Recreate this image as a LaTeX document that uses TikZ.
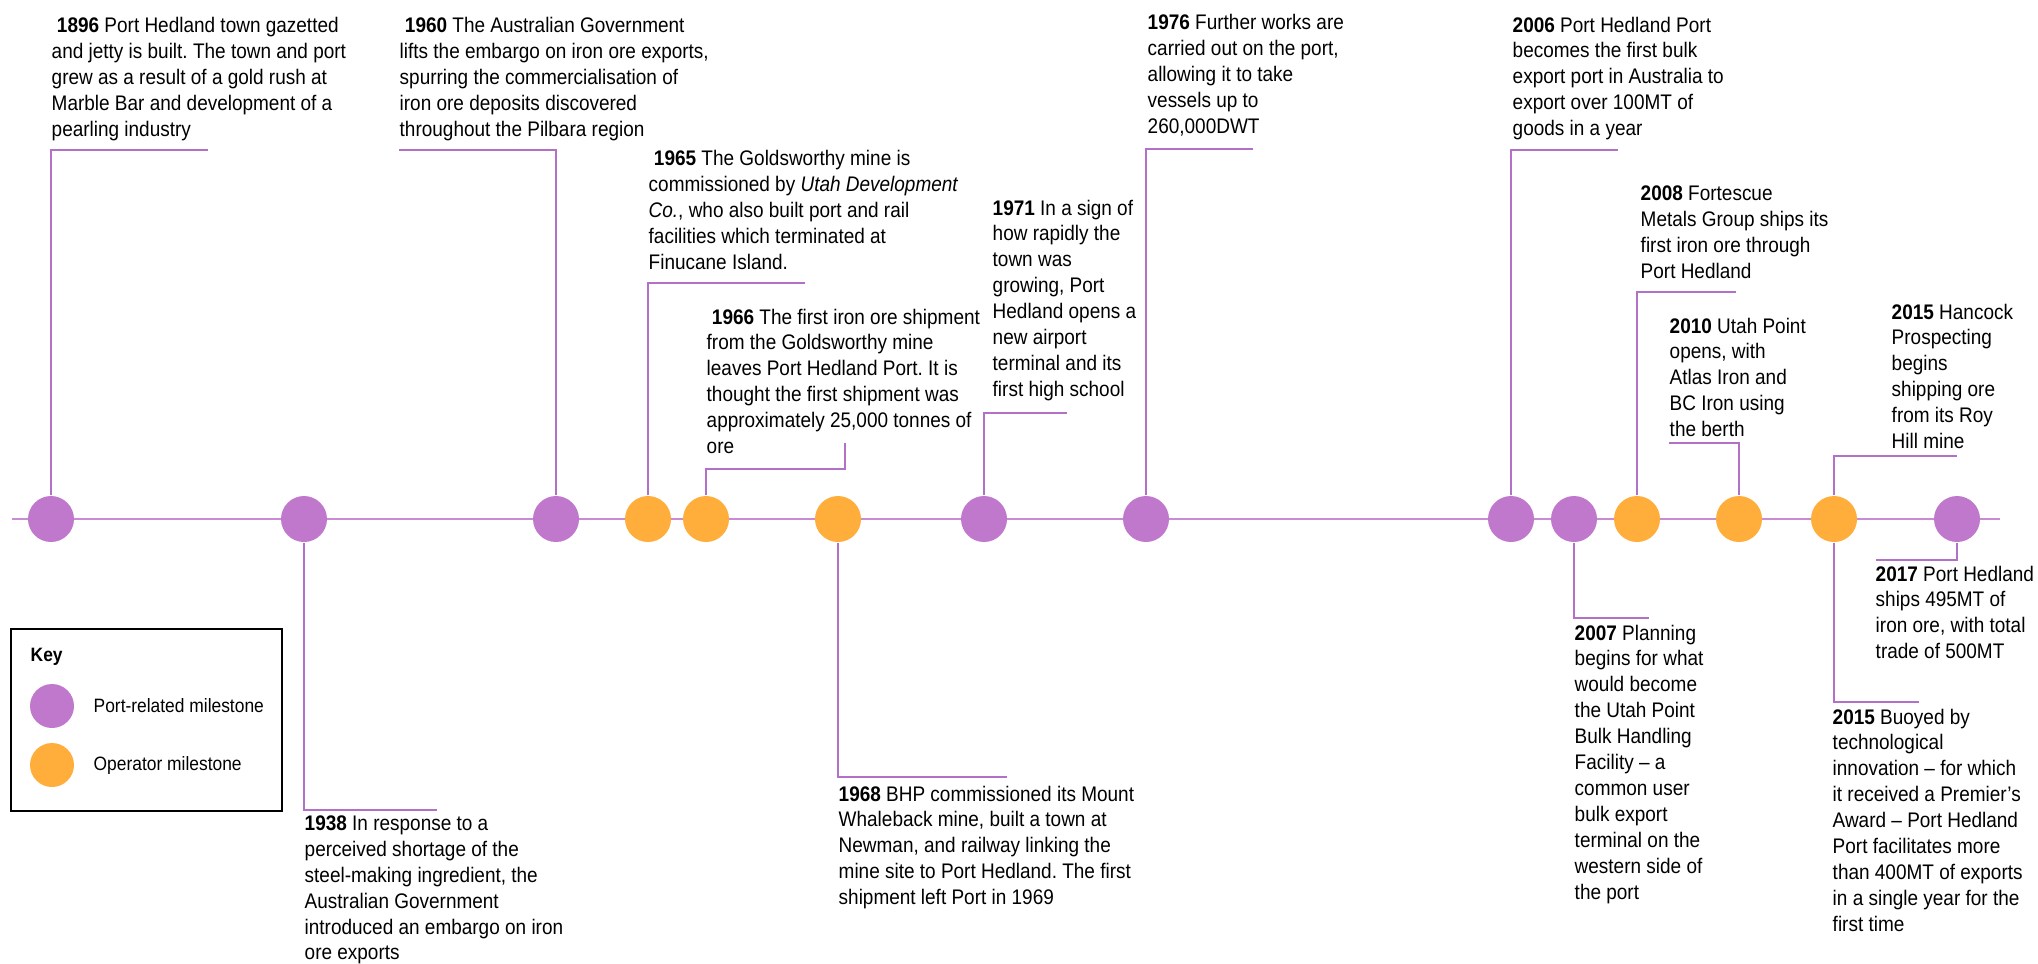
\documentclass[tikz,border=0pt]{standalone}
\usepackage{fontspec}
\setmainfont{Liberation Sans}[FakeStretch=0.9]
\usepackage{tikz}
\usetikzlibrary{positioning}
\frenchspacing

\definecolor{portpurple}{RGB}{191,120,204}
\definecolor{oporange}{RGB}{255,173,59}
\definecolor{linepurple}{RGB}{178,112,198}
\newcommand{\yr}[1]{\textbf{#1}}

\begin{document}
\begin{tikzpicture}[
        port/.style={circle, fill=portpurple, draw=none, minimum size=0.46cm, inner sep=0pt},
        oper/.style={circle, fill=oporange, draw=none, minimum size=0.46cm, inner sep=0pt},
        axis/.style={draw, portpurple!85, line width=0.02cm},
        callout/.style={draw, linepurple, line width=0.013cm},
        txt/.style={anchor=north west, inner sep=0pt, align=left, font=\fontsize{6}{7.37}\selectfont},
        keytxt/.style={anchor=west, inner sep=0pt, font=\fontsize{5.5}{6.6}\selectfont},
    ]
    \useasboundingbox (0,0) rectangle (20.38,-9.63);

    % Time axis
    \coordinate (axisL) at (0.12,-5.19);
    \coordinate (axisR) at (20.00,-5.19);
    \draw[axis] (axisL) -- (axisR);

    % === MILESTONES ===
    \node[port] (c1896) at (0.51,-5.19) {};
    \node[port] (c1938) at (3.04,-5.19) {};
    \node[port] (c1960) at (5.56,-5.19) {};
    \node[oper] (c1965) at (6.48,-5.19) {};
    \node[oper] (c1966) at (7.06,-5.19) {};
    \node[oper] (c1968) at (8.38,-5.19) {};
    \node[port] (c1971) at (9.84,-5.19) {};
    \node[port] (c1976) at (11.46,-5.19) {};
    \node[port] (c2006) at (15.11,-5.19) {};
    \node[port] (c2007) at (15.74,-5.19) {};
    \node[oper] (c2008) at (16.37,-5.19) {};
    \node[oper] (c2010) at (17.39,-5.19) {};
    \node[oper] (c2015) at (18.34,-5.19) {};
    \node[port] (c2017) at (19.57,-5.19) {};

    % === ABOVE THE AXIS ===
    \node[txt] (t1896) at (0.51,-0.17) {\ \yr{1896} Port Hedland town gazetted\\and jetty is built. The town and port\\grew as a result of a gold rush at\\Marble Bar and development of a\\pearling industry};
    \coordinate (e1896) at (2.08,-1.50);
    \draw[callout] (c1896.north) |- (e1896);

    \node[txt] (t1960) at (3.99,-0.17) {\ \yr{1960} The Australian Government\\lifts the embargo on iron ore exports,\\spurring the commercialisation of\\iron ore deposits discovered\\throughout the Pilbara region};
    \coordinate (e1960) at (3.99,-1.50);
    \draw[callout] (c1960.north) |- (e1960);

    \node[txt] (t1965) at (6.48,-1.50) {\ \yr{1965} The Goldsworthy mine is\\commissioned by \textit{Utah Development}\\\textit{Co.}, who also built port and rail\\facilities which terminated at\\Finucane Island.};
    \coordinate (e1965) at (8.05,-2.83);
    \draw[callout] (c1965.north) |- (e1965);

    \node[txt] (t1966) at (7.06,-3.08) {\ \yr{1966} The first iron ore shipment\\from the Goldsworthy mine\\leaves Port Hedland Port. It is\\thought the first shipment was\\approximately 25,000 tonnes of\\ore};
    \coordinate (e1966) at (8.45,-4.69);
    \coordinate (h1966) at (8.45,-4.43);
    \draw[callout] (c1966.north) |- (e1966) -- (h1966);

    \node[txt] (t1971) at (9.92,-1.99) {\yr{1971} In a sign of\\how rapidly the\\town was\\growing, Port\\Hedland opens a\\new airport\\terminal and its\\first high school};
    \coordinate (e1971) at (10.67,-4.13);
    \draw[callout] (c1971.north) |- (e1971);

    \node[txt] (t1976) at (11.47,-0.14) {\yr{1976} Further works are\\carried out on the port,\\allowing it to take\\vessels up to\\260,000DWT};
    \coordinate (e1976) at (12.53,-1.49);
    \draw[callout] (c1976.north) |- (e1976);

    \node[txt] (t2006) at (15.12,-0.16) {\yr{2006} Port Hedland Port\\becomes the first bulk\\export port in Australia to\\export over 100MT of\\goods in a year};
    \coordinate (e2006) at (16.18,-1.50);
    \draw[callout] (c2006.north) |- (e2006);

    \node[txt] (t2008) at (16.40,-1.85) {\yr{2008} Fortescue\\Metals Group ships its\\first iron ore through\\Port Hedland};
    \coordinate (e2008) at (17.36,-2.92);
    \draw[callout] (c2008.north) |- (e2008);

    \node[txt] (t2010) at (16.69,-3.17) {\yr{2010} Utah Point\\opens, with\\Atlas Iron and\\BC Iron using\\the berth};
    \coordinate (e2010) at (16.69,-4.43);
    \draw[callout] (c2010.north) |- (e2010);

    \node[txt] (t2015a) at (18.91,-3.03) {\yr{2015} Hancock\\Prospecting\\begins\\shipping ore\\from its Roy\\Hill mine};
    \coordinate (e2015a) at (19.57,-4.56);
    \draw[callout] (c2015.north) |- (e2015a);

    % === BELOW THE AXIS ===
    \node[txt] (t1938) at (3.04,-8.15) {\yr{1938} In response to a\\perceived shortage of the\\steel-making ingredient, the\\Australian Government\\introduced an embargo on iron\\ore exports};
    \coordinate (e1938) at (4.37,-8.10);
    \draw[callout] (c1938.south) |- (e1938);

    \node[txt] (t1968) at (8.38,-7.85) {\yr{1968} BHP commissioned its Mount\\Whaleback mine, built a town at\\Newman, and railway linking the\\mine site to Port Hedland. The first\\shipment left Port in 1969};
    \coordinate (e1968) at (10.07,-7.77);
    \draw[callout] (c1968.south) |- (e1968);

    \node[txt] (t2007) at (15.74,-6.24) {\yr{2007} Planning\\begins for what\\would become\\the Utah Point\\Bulk Handling\\Facility -- a\\common user\\bulk export\\terminal on the\\western side of\\the port};
    \coordinate (e2007) at (16.49,-6.18);
    \draw[callout] (c2007.south) |- (e2007);

    \node[txt] (t2015b) at (18.32,-7.08) {\yr{2015} Buoyed by\\technological\\innovation -- for which\\it received a Premier’s\\Award -- Port Hedland\\Port facilitates more\\than 400MT of exports\\in a single year for the\\first time};
    \coordinate (e2015b) at (19.19,-7.02);
    \draw[callout] (c2015.south) |- (e2015b);

    \node[txt] (t2017) at (18.75,-5.65) {\yr{2017} Port Hedland\\ships 495MT of\\iron ore, with total\\trade of 500MT};
    \coordinate (e2017) at (18.76,-5.60);
    \draw[callout] (c2017.south) |- (e2017);

    % === KEY ===
    \coordinate (keyNW) at (0.11,-6.29);
    \coordinate (keySE) at (2.82,-8.11);
    \draw[black, line width=0.02cm] (keyNW) rectangle (keySE);
    \node[txt, font=\fontsize{5.5}{6.6}\selectfont\bfseries] (keytitle) at (0.30,-6.47) {Key};
    \node[port, minimum size=0.44cm] (kport) at (0.52,-7.06) {};
    \node[oper, minimum size=0.44cm] (koper) at (0.52,-7.65) {};
    \node[keytxt] (lport) at (0.93,-7.06) {Port-related milestone};
    \node[keytxt] (loper) at (0.93,-7.65) {Operator milestone};

\end{tikzpicture}
\end{document}
